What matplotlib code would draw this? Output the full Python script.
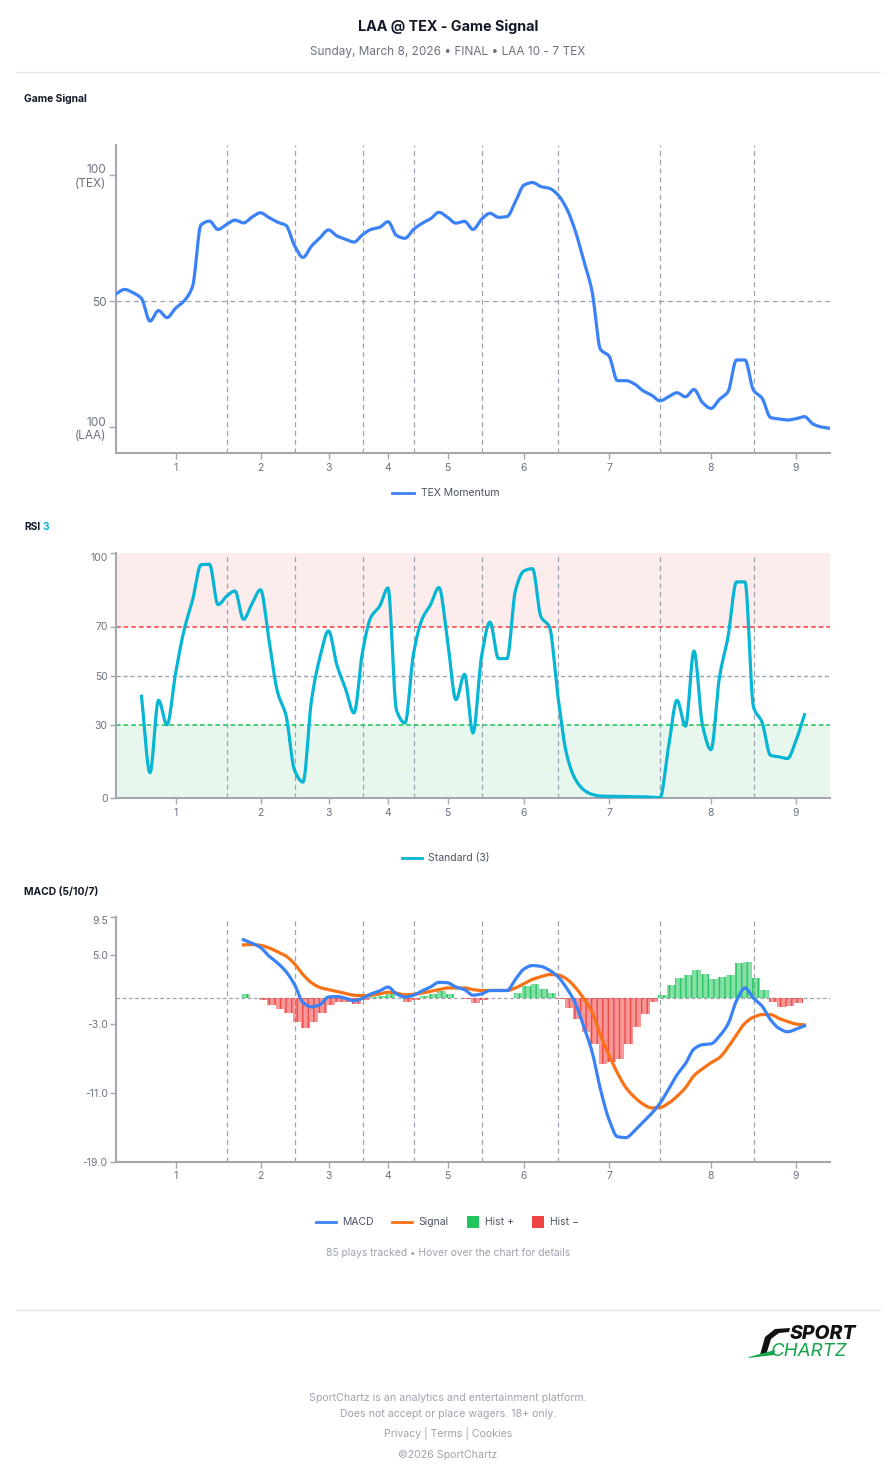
import numpy as np
import matplotlib
matplotlib.use("Agg")
import matplotlib.pyplot as plt
from matplotlib.lines import Line2D
from matplotlib.patches import Rectangle, Polygon

plt.rcParams['font.family'] = ['Inter', 'DejaVu Sans']

# ---------------- data ----------------
gs_plays = list(range(0, 85))
gs_values = [52.8, 54.6, 53.3, 51.0, 42.0, 46.2, 43.4, 47.1, 50.0, 55.7,
             80.2, 81.7, 78.4, 80.4, 82.1, 81.0, 83.3, 85.0, 83.1, 81.3,
             80.0, 72.0, 67.3, 71.8, 75.1, 78.2, 75.8, 74.5, 73.4, 76.3,
             78.4, 79.2, 81.5, 76.0, 74.9, 78.4, 80.8, 82.6, 85.2, 83.2,
             80.9, 81.6, 78.4, 82.4, 84.8, 83.2, 83.5, 89.5, 96.0, 97.0,
             95.4, 94.7, 92.1, 86.8, 78.2, 66.3, 54.0, 30.8, 28.2, 18.4,
             18.4, 17.1, 14.4, 12.7, 10.4, 12.0, 13.6, 12.0, 14.9, 9.7,
             7.4, 11.0, 14.0, 26.6, 26.6, 14.6, 11.5, 3.8, 3.2, 2.8,
             3.3, 4.1, 1.2, 0.0, -0.5]

rsi_plays = list(range(3, 82))
rsi_values = [41.5, 10.3, 39.9, 29.9, 50.7, 68.4, 80.7, 95.2, 95.4, 78.9,
              82.3, 84.5, 72.9, 79.3, 85.0, 64.4, 43.3, 33.7, 11.3, 6.5,
              39.9, 57.6, 68.2, 54.1, 44.6, 34.7, 59.6, 73.9, 78.2, 85.7,
              35.8, 30.6, 58.9, 72.9, 78.9, 85.9, 64.4, 40.1, 50.5, 26.5,
              57.6, 71.8, 56.9, 56.9, 84.8, 92.7, 93.6, 73.9, 69.8, 41.2,
              18.1, 7.9, 3.4, 1.5, 0.8, 0.7, 0.7, 0.6, 0.5, 0.5,
              0.3, 0.1, 20.8, 39.9, 29.3, 60.0, 29.7, 19.7, 49.4, 65.7,
              88.2, 88.2, 37.1, 31.0, 17.4, 16.8, 16.1, 23.5, 34.0]

macd_plays = list(range(15, 82))
macd_values = [6.8, 6.4, 5.9, 4.9, 4.1, 3.1, 1.6, -0.5, -1.0, -0.75,
               0.15, 0.2, 0.0, -0.3, 0.0, 0.5, 0.85, 1.3, 0.5, 0.15,
               0.35, 0.85, 1.3, 1.85, 1.8, 1.3, 1.0, 0.35, 0.5, 0.9,
               0.9, 0.9, 2.2, 3.4, 3.8, 3.7, 3.25, 2.5, 1.2, -0.5,
               -3.2, -6.2, -10.6, -14.1, -16.1, -16.2, -15.4, -14.4, -13.4, -12.2,
               -10.6, -8.9, -7.6, -5.9, -5.4, -5.3, -4.4, -3.0, -0.3, 1.2,
               0.0, -0.9, -2.5, -3.5, -3.9, -3.6, -3.2]
signal_values = [6.2, 6.25, 6.15, 5.85, 5.4, 4.9, 4.0, 2.75, 1.8, 1.25,
                 1.0, 0.8, 0.55, 0.35, 0.3, 0.35, 0.5, 0.7, 0.6, 0.4,
                 0.45, 0.6, 0.8, 1.0, 1.2, 1.2, 1.2, 1.0, 0.9, 0.9,
                 0.9, 0.9, 1.2, 1.7, 2.2, 2.5, 2.75, 2.7, 2.25, 1.3,
                 0.0, -1.6, -4.3, -6.6, -8.7, -10.4, -11.5, -12.3, -12.75, -12.7,
                 -12.2, -11.4, -10.4, -9.0, -8.2, -7.5, -6.9, -5.7, -4.25, -2.9,
                 -2.2, -1.9, -1.9, -2.35, -2.7, -3.0, -3.1]
hist_plays = list(range(15, 81))
hist_values = [0.55, 0.05, -0.23, -0.74, -1.2, -1.7, -2.8, -3.45, -2.75, -1.7,
               -0.74, -0.43, -0.43, -0.62, -0.2, 0.15, 0.3, 0.55, 0.03, -0.4,
               -0.15, 0.23, 0.55, 0.8, 0.55, -0.03, -0.12, -0.6, -0.23, 0.03,
               0.03, 0.03, 0.58, 1.48, 1.6, 1.13, 0.58, -0.05, -1.13, -2.4,
               -3.9, -5.3, -7.6, -7.45, -7.1, -5.3, -3.4, -1.8, -0.47, 0.35,
               1.5, 2.4, 2.7, 3.25, 2.8, 2.25, 2.45, 2.7, 4.1, 4.2,
               2.35, 1.0, -0.45, -1.0, -0.95, -0.6]

inning_ticks = [7, 17, 25, 32, 39, 48, 58, 70, 80]
inning_labels = ['1', '2', '3', '4', '5', '6', '7', '8', '9']
inning_breaks = [13, 21, 29, 35, 43, 52, 64, 75]

gs_yticks = [0, 50, 100]
gs_ylabels = ['100\n(LAA)', '50', '100\n(TEX)']
rsi_yticks = [0, 30, 50, 70, 100]
macd_yticks = [-19.0, -11.0, -3.0, 5.0, 9.5]

# ---------------- helpers ----------------
W, H = 896, 1480
BLUE = '#3b82f6'
CYAN = '#06b6d4'
ORANGE = '#f97316'
GREEN = '#22c55e'
RED = '#ef4444'
GRID = '#9ca3af'
SPINE = '#a3a7b0'
TICKC = '#6b7280'


def fx(px):
    return px / W


def fy(py):
    return 1 - py / H


def smooth(x, y, n=12):
    x = np.asarray(x, float)
    y = np.asarray(y, float)
    h = np.diff(x)
    d = np.diff(y) / h
    m = np.zeros_like(y)
    m[0] = d[0]
    m[-1] = d[-1]
    for i in range(1, len(y) - 1):
        if d[i - 1] * d[i] <= 0:
            m[i] = 0.0
        else:
            w1 = 2 * h[i] + h[i - 1]
            w2 = h[i] + 2 * h[i - 1]
            m[i] = (w1 + w2) / (w1 / d[i - 1] + w2 / d[i])
    xs, ys = [], []
    t = np.linspace(0, 1, n, endpoint=False)
    h00 = 2 * t**3 - 3 * t**2 + 1
    h10 = t**3 - 2 * t**2 + t
    h01 = -2 * t**3 + 3 * t**2
    h11 = t**3 - t**2
    for i in range(len(x) - 1):
        xs.append(x[i] + t * h[i])
        ys.append(h00 * y[i] + h10 * h[i] * m[i] + h01 * y[i + 1] + h11 * h[i] * m[i + 1])
    xs.append([x[-1]])
    ys.append([y[-1]])
    return np.concatenate(xs), np.concatenate(ys)


def style_axes(ax):
    for s in ['top', 'right']:
        ax.spines[s].set_visible(False)
    for s in ['left', 'bottom']:
        ax.spines[s].set_color(SPINE)
        ax.spines[s].set_linewidth(1.5)
    ax.tick_params(axis='both', colors=SPINE, length=4, width=1, labelcolor=TICKC, labelsize=7.5)
    ax.tick_params(axis='x', pad=3)
    ax.set_xlim(0, 84)
    ax.set_xticks(inning_ticks, labels=inning_labels)
    for b in inning_breaks:
        ax.axvline(b, color=GRID, lw=0.9, ls=(0, (4, 3)), zorder=1)


fig = plt.figure(figsize=(W / 100, H / 100), dpi=100)
fig.patch.set_facecolor('white')

LEG = dict(ha='left', va='center', fontsize=7.5, color='#4b5563')

# ---------------- header ----------------
fig.text(0.5, fy(27), 'LAA @ TEX - Game Signal', ha='center', va='center',
         fontsize=10.3, fontweight='bold', color='#111827')
fig.text(0.5, fy(52), 'Sunday, March 8, 2026 \u2022 FINAL \u2022 LAA 10 - 7 TEX', ha='center', va='center',
         fontsize=8.5, color='#6b7280')
fig.add_artist(Line2D([fx(16), fx(880)], [fy(72), fy(72)], transform=fig.transFigure,
                      color='#e5e7eb', lw=1))

# ---------------- Game signal ----------------
fig.text(fx(24), fy(99), 'Game Signal', ha='left', va='center', fontsize=7.4, fontweight='bold', color='#111827')
ax1 = fig.add_axes([fx(116), fy(453), fx(830) - fx(116), (453 - 145) / H])
style_axes(ax1)
ax1.set_ylim(-10.3, 111.9)
ax1.set_yticks(gs_yticks, labels=gs_ylabels)
ax1.tick_params(axis='y', labelsize=8.5, length=5, pad=2)
ax1.axhline(50, color=GRID, lw=0.9, ls=(0, (4, 3)), zorder=1)
sx, sy = smooth(gs_plays, gs_values)
ax1.plot(sx, sy, color=BLUE, lw=2.3, solid_capstyle='round', zorder=3)

fig.add_artist(Line2D([fx(392), fx(414)], [fy(493), fy(493)], transform=fig.transFigure, color=BLUE, lw=2))
fig.text(fx(421), fy(493), 'TEX Momentum', **LEG)

# ---------------- RSI ----------------
fig.text(fx(24), fy(527), 'RSI', ha='left', va='center', fontsize=7.4, fontweight='bold', color='#111827')
fig.text(fx(42.5), fy(527), '3', ha='left', va='center', fontsize=7.4, fontweight='bold', color=CYAN)
ax2 = fig.add_axes([fx(116), fy(798), fx(830) - fx(116), (798 - 553) / H])
style_axes(ax2)
ax2.set_ylim(0, 100)
ax2.set_yticks(rsi_yticks, labels=[str(v) for v in rsi_yticks])
ax2.tick_params(axis='y', length=4, pad=2)
ax2.axhspan(70, 100, color='#fdecec', zorder=0, lw=0)
ax2.axhspan(0, 30, color='#e8f7ee', zorder=0, lw=0)
ax2.axhline(70, color='#ff3b3b', lw=1.1, ls=(0, (3, 2)), zorder=2)
ax2.axhline(30, color='#16c64f', lw=1.1, ls=(0, (3, 2)), zorder=2)
ax2.axhline(50, color=GRID, lw=1.0, ls=(0, (3, 2)), zorder=2)
rx, ry = smooth(rsi_plays, rsi_values)
ry = np.clip(ry, 0, 100)
ax2.plot(rx, ry, color=CYAN, lw=2.3, zorder=3)
for lab in ax2.get_yticklabels():
    if lab.get_text() == '100':
        lab.set_va('top')

fig.add_artist(Line2D([fx(402), fx(422)], [fy(858), fy(858)], transform=fig.transFigure, color=CYAN, lw=2))
fig.text(fx(428), fy(858), 'Standard (3)', **LEG)

# ---------------- MACD ----------------
fig.text(fx(24), fy(892), 'MACD (5/10/7)', ha='left', va='center', fontsize=7.4, fontweight='bold', color='#111827')
ax3 = fig.add_axes([fx(116), fy(1161.7), fx(830) - fx(116), (1161.7 - 916.5) / H])
style_axes(ax3)
ax3.set_ylim(-19, 9.5)
ax3.set_yticks(macd_yticks, labels=['%.1f' % v for v in macd_yticks])
ax3.tick_params(axis='y', length=4, pad=2)
ax3.axhline(0, color=GRID, lw=0.9, ls=(0, (3, 2)), zorder=1)
hp = np.asarray(hist_plays, float)
hv = np.asarray(hist_values, float)
pos = hv >= 0
for mask, col in [(pos, GREEN), (~pos, RED)]:
    rgb = matplotlib.colors.to_rgb(col)
    ax3.bar(hp[mask] + 0.3, hv[mask], width=0.98, facecolor=rgb + (0.55,),
            edgecolor=rgb + (0.95,), linewidth=0, hatch='|||', zorder=2)
mx, my = smooth(macd_plays, macd_values)
ax3.plot(mx, my, color=BLUE, lw=2.3, zorder=4)
gx, gy = smooth(macd_plays, signal_values)
ax3.plot(gx, gy, color=ORANGE, lw=2.3, zorder=3)
for lab in ax3.get_yticklabels():
    if lab.get_text() == '9.5':
        lab.set_va('top')

# MACD legend
fig.add_artist(Line2D([fx(316), fx(336)], [fy(1222), fy(1222)], transform=fig.transFigure, color=BLUE, lw=2))
fig.text(fx(342), fy(1222), 'MACD', **LEG)
fig.add_artist(Line2D([fx(392), fx(412)], [fy(1222), fy(1222)], transform=fig.transFigure, color=ORANGE, lw=2))
fig.text(fx(418), fy(1222), 'Signal', **LEG)
fig.add_artist(Rectangle((fx(467), fy(1228)), fx(12), 12 / H, transform=fig.transFigure,
                         facecolor=GREEN, edgecolor='none'))
fig.text(fx(485), fy(1222), 'Hist +', **LEG)
fig.add_artist(Rectangle((fx(532), fy(1228)), fx(12), 12 / H, transform=fig.transFigure,
                         facecolor=RED, edgecolor='none'))
fig.text(fx(550), fy(1222), 'Hist \u2212', **LEG)

fig.text(0.5, fy(1253), '85 plays tracked \u2022 Hover over the chart for details', ha='center', va='center',
         fontsize=7.4, color='#9ca3af')

# ---------------- footer ----------------
fig.add_artist(Line2D([fx(16), fx(880)], [fy(1310), fy(1310)], transform=fig.transFigure,
                      color='#e5e7eb', lw=1))

# logo
fig.add_artist(Polygon([(fx(790), fy(1328)), (fx(775), fy(1329)), (fx(765), fy(1337)),
                        (fx(760), fy(1355)), (fx(766), fy(1355)), (fx(771), fy(1339)),
                        (fx(779), fy(1333)), (fx(789), fy(1332))],
                       closed=True, transform=fig.transFigure, facecolor='#111111', edgecolor='none'))
fig.add_artist(Polygon([(fx(749), fy(1357)), (fx(775), fy(1350)), (fx(774), fy(1355)), (fx(748), fy(1358))],
                       closed=True, transform=fig.transFigure, facecolor='#16a34a', edgecolor='none'))
fig.text(fx(790), fy(1334), 'SPORT', ha='left', va='center', fontsize=14, fontweight='heavy',
         fontstyle='italic', color='#111111')
fig.text(fx(771), fy(1351), 'CHARTZ', ha='left', va='center', fontsize=13.5, fontweight='normal',
         fontstyle='italic', color='#16a34a')

FOOT = dict(ha='center', va='center', fontsize=7.6, color='#9ca3af')
fig.text(0.5, fy(1398), 'SportChartz is an analytics and entertainment platform.', **FOOT)
fig.text(0.5, fy(1414), 'Does not accept or place wagers. 18+ only.', **FOOT)
fig.text(0.5, fy(1434), 'Privacy | Terms | Cookies', **FOOT)
fig.text(0.5, fy(1455), '\u00a92026 SportChartz', **FOOT)

fig.savefig('out.png', dpi=100, facecolor='white')
